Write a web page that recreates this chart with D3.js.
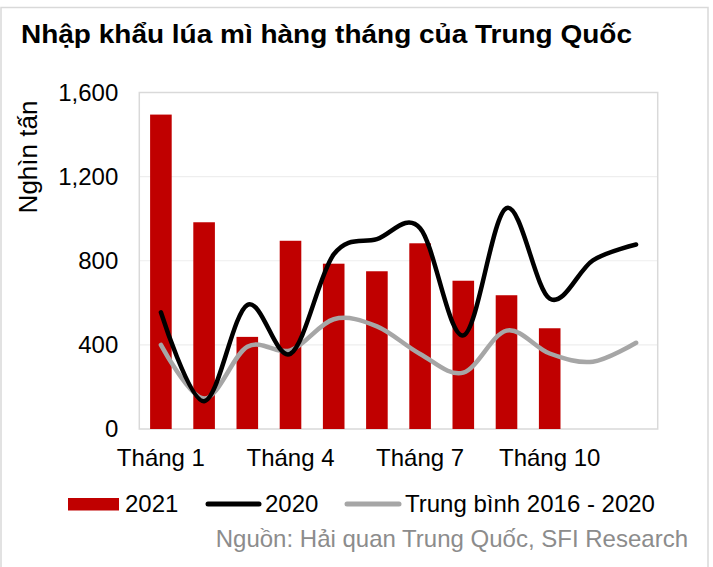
<!DOCTYPE html>
<html>
<head>
<meta charset="utf-8">
<script src="https://cdn.jsdelivr.net/npm/d3@7"></script>
<style>
body { margin:0; background:#fff; }
svg text { font-family: "Liberation Sans", Arial, sans-serif; }
</style>
</head>
<body>
<div id="chart"></div>
<script>
var months = ["Tháng 1","Tháng 2","Tháng 3","Tháng 4","Tháng 5","Tháng 6",
              "Tháng 7","Tháng 8","Tháng 9","Tháng 10","Tháng 11","Tháng 12"];
var shownMonths = ["Tháng 1","Tháng 4","Tháng 7","Tháng 10"];
var imports2021 = [1495, 983, 438, 895, 786, 750, 883, 705, 636, 479];
var imports2020 = [555, 132, 590, 358, 830, 903, 955, 445, 1050, 620, 802, 877];
var avg2016_2020 = [400, 145, 391, 374, 522, 488, 357, 268, 468, 359, 320, 410];
var yTicks = [0, 400, 800, 1200, 1600];

var width = 713, height = 567;
var plotLeft = 139.3, plotRight = 657.7, plotTop = 92.5, plotBottom = 429;

var svg = d3.select('#chart')
    .append('svg')
    .attr('width', width)
    .attr('height', height);

// outer frame
svg.append('rect')
    .attr('x', 1).attr('y', 7.5)
    .attr('width', 707).attr('height', 570)
    .attr('fill', 'none')
    .attr('stroke', '#d9d9d9')
    .attr('stroke-width', 1.5);

svg.append('text')
    .attr('x', 21).attr('y', 43)
    .attr('font-size', 26)
    .attr('font-weight', 'bold')
    .attr('fill', '#000')
    .attr('textLength', 611)
    .attr('lengthAdjust', 'spacingAndGlyphs')
    .text('Nhập khẩu lúa mì hàng tháng của Trung Quốc');

var x = d3.scaleBand()
    .domain(months)
    .range([plotLeft, plotRight])
    .paddingInner(0.5)
    .paddingOuter(0.25);

var y = d3.scaleLinear()
    .domain([0, 1600])
    .range([plotBottom, plotTop]);

// gridlines
svg.append('g')
    .selectAll('line')
    .data(yTicks.slice(1, 4))
    .enter()
    .append('line')
    .attr('x1', plotLeft).attr('x2', plotRight)
    .attr('y1', function(d){ return y(d); })
    .attr('y2', function(d){ return y(d); })
    .attr('stroke', '#eeeeee')
    .attr('stroke-width', 1.2);

// plot border
svg.append('rect')
    .attr('x', plotLeft).attr('y', plotTop)
    .attr('width', plotRight - plotLeft).attr('height', plotBottom - plotTop)
    .attr('fill', 'none')
    .attr('stroke', '#d9d9d9')
    .attr('stroke-width', 1.5);

var yAxis = svg.append('g')
    .attr('transform', 'translate(' + plotLeft + ',0)')
    .call(d3.axisLeft(y).tickValues(yTicks).tickSize(0).tickPadding(21)
          .tickFormat(d3.format(',')));
yAxis.select('.domain').remove();
yAxis.selectAll('text')
    .attr('font-size', 24)
    .attr('fill', '#000')
    .style('font-family', '"Liberation Sans", Arial, sans-serif');

var xAxis = svg.append('g')
    .attr('transform', 'translate(0,' + plotBottom + ')')
    .call(d3.axisBottom(x).tickValues(shownMonths).tickSize(0).tickPadding(20));
xAxis.select('.domain').remove();
xAxis.selectAll('text')
    .attr('font-size', 24)
    .attr('fill', '#000')
    .style('font-family', '"Liberation Sans", Arial, sans-serif');

svg.append('text')
    .attr('transform', 'translate(37,157) rotate(-90)')
    .attr('text-anchor', 'middle')
    .attr('font-size', 26)
    .attr('fill', '#000')
    .text('Nghìn tấn');

// bars 2021
svg.append('g')
    .selectAll('rect')
    .data(imports2021)
    .enter()
    .append('rect')
    .attr('x', function(d, i){ return x(months[i]); })
    .attr('y', function(d){ return y(d); })
    .attr('width', x.bandwidth())
    .attr('height', function(d){ return plotBottom - y(d); })
    .attr('fill', '#c00000');

var line = d3.line()
    .x(function(d, i){ return x(months[i]) + x.bandwidth() / 2; })
    .y(function(d){ return y(d); })
    .curve(d3.curveCardinal.tension(0));

svg.append('path')
    .datum(avg2016_2020)
    .attr('d', line)
    .attr('fill', 'none')
    .attr('stroke', '#a6a6a6')
    .attr('stroke-width', 4.5)
    .attr('stroke-linecap', 'round');

svg.append('path')
    .datum(imports2020)
    .attr('d', line)
    .attr('fill', 'none')
    .attr('stroke', '#000')
    .attr('stroke-width', 4.5)
    .attr('stroke-linecap', 'round');

// legend
var legend = svg.append('g');
legend.append('rect')
    .attr('x', 68).attr('y', 498)
    .attr('width', 51).attr('height', 12.5)
    .attr('fill', '#c00000');
legend.append('text')
    .attr('x', 125).attr('y', 512)
    .attr('font-size', 24)
    .text('2021');
legend.append('line')
    .attr('x1', 208).attr('x2', 259)
    .attr('y1', 504).attr('y2', 504)
    .attr('stroke', '#000').attr('stroke-width', 5)
    .attr('stroke-linecap', 'round');
legend.append('text')
    .attr('x', 265).attr('y', 512)
    .attr('font-size', 24)
    .text('2020');
legend.append('line')
    .attr('x1', 347).attr('x2', 399)
    .attr('y1', 504).attr('y2', 504)
    .attr('stroke', '#a6a6a6').attr('stroke-width', 5)
    .attr('stroke-linecap', 'round');
legend.append('text')
    .attr('x', 405).attr('y', 512)
    .attr('font-size', 24)
    .text('Trung bình 2016 - 2020');

svg.append('text')
    .attr('x', 688).attr('y', 547)
    .attr('text-anchor', 'end')
    .attr('font-size', 24)
    .attr('fill', '#8c8c8c')
    .text('Nguồn: Hải quan Trung Quốc, SFI Research');
</script>
</body>
</html>
